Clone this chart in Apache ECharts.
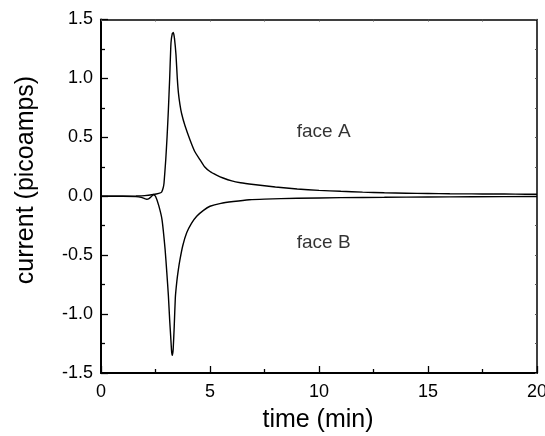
<!DOCTYPE html>
<html>
<head>
<meta charset="utf-8">
<script src="https://cdn.jsdelivr.net/npm/echarts@6/dist/echarts.min.js"></script>
<style>
html,body{margin:0;padding:0;background:#fff;}
#chart{width:545px;height:436px;}
</style>
</head>
<body>
<div id="chart"></div>
<script>
// time (min) and current (picoamps) for each face
const timeA = [0, 1, 1.6, 2.0, 2.4, 2.65, 2.78, 2.85, 2.89, 2.97, 3.03, 3.09, 3.15, 3.21, 3.27, 3.32, 3.37, 3.44, 3.5, 3.55, 3.62, 3.7, 3.85, 4.08, 4.3, 4.54, 4.75, 5.0, 5.3, 5.6, 6.0, 6.4, 7, 8, 9, 10, 11, 12, 13, 14, 15, 16, 17, 18, 19, 20];
const currentA = [0, 0, 0.002, 0.005, 0.015, 0.025, 0.035, 0.07, 0.11, 0.31, 0.5, 0.73, 1.0, 1.3, 1.38, 1.39, 1.34, 1.2, 1.0, 0.88, 0.78, 0.70, 0.6, 0.48, 0.38, 0.31, 0.25, 0.21, 0.18, 0.155, 0.13, 0.115, 0.1, 0.078, 0.062, 0.05, 0.042, 0.035, 0.03, 0.026, 0.023, 0.021, 0.02, 0.019, 0.018, 0.017];
const timeB = [0, 1, 1.6, 1.85, 2.0, 2.1, 2.2, 2.3, 2.4, 2.5, 2.65, 2.8, 2.94, 3.02, 3.09, 3.15, 3.2, 3.24, 3.27, 3.31, 3.36, 3.41, 3.48, 3.55, 3.62, 3.75, 3.93, 4.15, 4.39, 4.7, 5.0, 5.5, 6.07, 6.8, 7.5, 9, 11, 13, 15, 17, 20];
const currentB = [0, 0, -0.003, -0.01, -0.02, -0.025, -0.02, -0.005, 0.015, 0.0, -0.08, -0.2, -0.45, -0.65, -0.84, -1.05, -1.2, -1.32, -1.35, -1.3, -1.1, -0.86, -0.72, -0.62, -0.54, -0.42, -0.31, -0.23, -0.17, -0.12, -0.085, -0.06, -0.045, -0.03, -0.024, -0.017, -0.012, -0.009, -0.006, -0.004, -0.002];
const annotations = ["face A", "face B"];
const annotationTime = [8.98, 8.98];
const annotationCurrent = [0.547, -0.393];
const xTicks = [0, 5, 10, 15, 20];
const yTicks = [-1.5, -1.0, -0.5, 0.0, 0.5, 1.0, 1.5];

const FONT = '"Liberation Sans", Arial, Helvetica, sans-serif';
const zip = (a, b) => a.map((v, i) => [v, b[i]]);

const chart = echarts.init(document.getElementById('chart'), null, {renderer: 'canvas'});
const baseX = {
  type: 'value', min: xTicks[0], max: xTicks[xTicks.length - 1], interval: 5,
  splitLine: {show: false}
};
const baseY = {
  type: 'value', min: yTicks[0], max: yTicks[yTicks.length - 1], interval: 0.5,
  splitLine: {show: false}
};
chart.setOption({
  animation: false,
  backgroundColor: '#fff',
  grid: {left: 101, right: 8, top: 19.5, bottom: 63, containLabel: false, outerBoundsMode: 'none'},
  xAxis: [
    Object.assign({}, baseX, {
      position: 'bottom',
      axisLine: {show: true, onZero: false, lineStyle: {color: '#000', width: 2}},
      axisTick: {show: true, inside: true, length: 7, lineStyle: {color: '#000', width: 1.3}},
      minorTick: {show: true, splitNumber: 2, length: 4, lineStyle: {color: '#000', width: 1.3}},
      axisLabel: {show: true, margin: 10, color: '#000', fontSize: 18, fontFamily: FONT,
        formatter: v => String(v)}
    }),
    Object.assign({}, baseX, {
      position: 'top',
      axisLine: {show: true, onZero: false, lineStyle: {color: '#000', width: 1.5}},
      axisTick: {show: true, inside: true, length: 2, lineStyle: {color: '#555', width: 1}},
      minorTick: {show: true, splitNumber: 2, length: 2, lineStyle: {color: '#555', width: 1}},
      axisLabel: {show: false}
    })
  ],
  yAxis: [
    Object.assign({}, baseY, {
      position: 'left',
      axisLine: {show: true, onZero: false, lineStyle: {color: '#000', width: 2}},
      axisTick: {show: true, inside: true, length: 7, lineStyle: {color: '#000', width: 1.3}},
      minorTick: {show: true, splitNumber: 2, length: 4, lineStyle: {color: '#000', width: 1.3}},
      axisLabel: {show: true, margin: 8, color: '#000', fontSize: 18, fontFamily: FONT,
        formatter: v => v.toFixed(1)}
    }),
    Object.assign({}, baseY, {
      position: 'right',
      axisLine: {show: true, onZero: false, lineStyle: {color: '#000', width: 1.5}},
      axisTick: {show: true, inside: true, length: 2, lineStyle: {color: '#555', width: 1}},
      minorTick: {show: true, splitNumber: 2, length: 2, lineStyle: {color: '#555', width: 1}},
      axisLabel: {show: false}
    })
  ],
  series: [
    {
      name: 'face A', type: 'line', xAxisIndex: 0, yAxisIndex: 0,
      data: zip(timeA, currentA), showSymbol: false, smooth: 0.15,
      lineStyle: {color: '#000', width: 1.4}
    },
    {
      name: 'face B', type: 'line', xAxisIndex: 0, yAxisIndex: 0,
      data: zip(timeB, currentB), showSymbol: false, smooth: 0.15,
      lineStyle: {color: '#000', width: 1.4}
    },
    {
      name: 'labels', type: 'scatter', xAxisIndex: 0, yAxisIndex: 0,
      symbolSize: 0, silent: true,
      data: annotations.map((t, i) => ({value: [annotationTime[i], annotationCurrent[i]], name: t})),
      label: {show: true, position: 'right', distance: 0, formatter: p => p.name,
        color: '#000', fontSize: 19, fontFamily: FONT, verticalAlign: 'middle'}
    }
  ],
  graphic: [
    {type: 'text', x: 318, y: 420,
      style: {text: 'time (min)', font: '25px ' + FONT, fill: '#000', textAlign: 'center', textVerticalAlign: 'middle'}},
    {type: 'text', x: 26, y: 180, rotation: Math.PI / 2,
      style: {text: 'current (picoamps)', font: '25px ' + FONT, fill: '#000', textAlign: 'center', textVerticalAlign: 'middle'}}
  ]
});
</script>
</body>
</html>
